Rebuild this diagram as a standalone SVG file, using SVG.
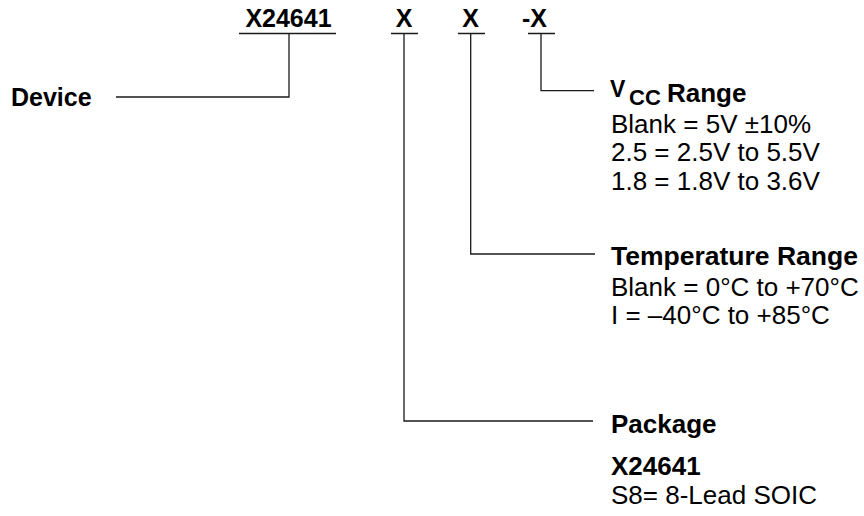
<svg xmlns="http://www.w3.org/2000/svg" width="864" height="516" viewBox="0 0 864 516">
<style>
.b{font-family:"Liberation Sans",Arial,sans-serif;font-weight:bold;fill:#000}
.r{font-family:"Liberation Sans",Arial,sans-serif;fill:#000;font-size:26px}
.ln{fill:none;stroke:#1a1a1a;stroke-width:1.3}
</style>
<rect width="864" height="516" fill="#fff"/>
<g id="code">
<text class="b" font-size="25" x="288.5" y="27" text-anchor="middle">X24641</text>
<text class="b" font-size="25" x="404" y="27" text-anchor="middle">X</text>
<text class="b" font-size="25" x="470.5" y="27" text-anchor="middle">X</text>
<text class="b" font-size="25" x="534.5" y="27" text-anchor="middle">-X</text>
</g>
<g id="connectors">
<path class="ln" d="M239 33.5H336M391 33.5H418M458 33.5H485M528 33.5H555"/>
<path class="ln" d="M289 33.5V97H116"/>
<path class="ln" d="M404 33.5V421H593"/>
<path class="ln" d="M470.7 33.5V254H595"/>
<path class="ln" d="M541 33.5V90.7H594"/>
</g>
<g id="device">
<text class="b" font-size="25" x="11" y="106">Device</text>
</g>
<g id="vcc">
<text class="b" font-size="23" x="610" y="97">V</text>
<text class="b" font-size="22" x="629" y="105">CC</text>
<text class="b" font-size="26" x="667" y="102">Range</text>
<text class="r" x="611" y="133">Blank = 5V ±10%</text>
<text class="r" x="611" y="161">2.5 = 2.5V to 5.5V</text>
<text class="r" x="611" y="190">1.8 = 1.8V to 3.6V</text>
</g>
<g id="temp">
<text class="b" font-size="26.5" x="611" y="265">Temperature Range</text>
<text class="r" x="611" y="296">Blank = 0°C to +70°C</text>
<text class="r" x="611" y="324">I = –40°C to +85°C</text>
</g>
<g id="package">
<text class="b" font-size="26" x="611" y="433">Package</text>
<text class="b" font-size="26" x="611" y="475">X24641</text>
<text class="r" x="611" y="504">S8= 8-Lead SOIC</text>
</g>
</svg>
